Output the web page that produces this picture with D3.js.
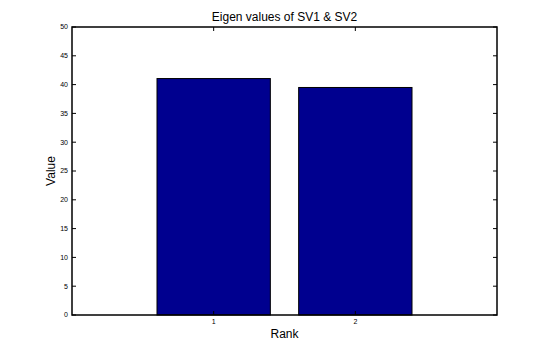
<!DOCTYPE html>
<html lang="en">
<head>
    <meta charset="UTF-8">
    <title>Eigen values</title>
    <style>
        body { margin: 0; background: #fff; }
        text { font-family: Arial, "Liberation Sans", sans-serif; }
    </style>
</head>
<body>
<script src="https://d3js.org/d3.v7.min.js"></script>
<script>
    var ranks = [1, 2];
    var values = [41.05, 39.5];
    var yTicks = [0, 5, 10, 15, 20, 25, 30, 35, 40, 45, 50];

    var width = 550,
        height = 355;
    var margin = {top: 27, right: 53, bottom: 40, left: 72};
    var w = width - margin.left - margin.right,
        h = height - margin.top - margin.bottom;

    var svg = d3.select("body")
        .append("svg")
        .attr("width", width)
        .attr("height", height);

    var g = svg.append("g")
        .attr("transform", "translate(" + margin.left + "," + margin.top + ")");

    // matlab style: xlim [0 3], bar width 0.8
    var x = d3.scaleLinear().domain([0, 3]).range([0, w]);
    var y = d3.scaleLinear().domain([0, 50]).range([h, 0]);

    g.selectAll("rect.bar")
        .data(values)
        .enter()
        .append("rect")
        .attr("class", "bar")
        .attr("x", function(d, i) { return x(ranks[i] - 0.4); })
        .attr("width", x(0.8) - x(0))
        .attr("y", function(d) { return y(d); })
        .attr("height", function(d) { return y(0) - y(d); })
        .attr("fill", "#00008f")
        .attr("stroke", "#000")
        .attr("stroke-width", 1);

    // box
    g.append("rect")
        .attr("x", 0).attr("y", 0)
        .attr("width", w).attr("height", h)
        .attr("fill", "none")
        .attr("stroke", "#000")
        .attr("stroke-width", 1.5);

    var tickLen = 4;
    // y ticks, left and right
    yTicks.forEach(function(t) {
        g.append("line").attr("x1", 0).attr("x2", tickLen)
            .attr("y1", y(t)).attr("y2", y(t)).attr("stroke", "#000");
        g.append("line").attr("x1", w).attr("x2", w - tickLen)
            .attr("y1", y(t)).attr("y2", y(t)).attr("stroke", "#000");
        g.append("text")
            .attr("x", -4)
            .attr("y", y(t))
            .attr("dy", "0.35em")
            .attr("text-anchor", "end")
            .attr("font-size", 7)
            .text(t);
    });

    // x ticks, bottom and top
    ranks.forEach(function(r) {
        g.append("line").attr("x1", x(r)).attr("x2", x(r))
            .attr("y1", h).attr("y2", h - tickLen).attr("stroke", "#000");
        g.append("line").attr("x1", x(r)).attr("x2", x(r))
            .attr("y1", 0).attr("y2", tickLen).attr("stroke", "#000");
        g.append("text")
            .attr("x", x(r))
            .attr("y", h + 9)
            .attr("text-anchor", "middle")
            .attr("font-size", 7)
            .text(r);
    });

    svg.append("text")
        .attr("x", margin.left + w / 2)
        .attr("y", 21)
        .attr("text-anchor", "middle")
        .attr("font-size", 12)
        .text("Eigen values of SV1 & SV2");

    svg.append("text")
        .attr("x", margin.left + w / 2)
        .attr("y", 338)
        .attr("text-anchor", "middle")
        .attr("font-size", 12)
        .text("Rank");

    svg.append("text")
        .attr("transform", "translate(55,171) rotate(-90)")
        .attr("text-anchor", "middle")
        .attr("font-size", 12)
        .text("Value");
</script>
</body>
</html>
